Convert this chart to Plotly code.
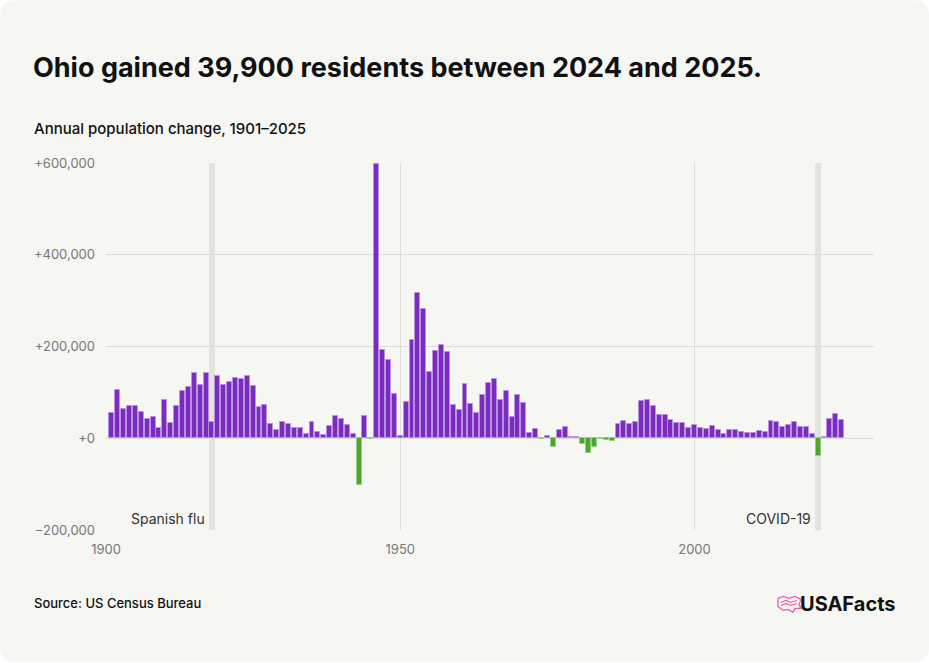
import plotly.graph_objects as go

years = list(range(1901, 2026))
change = [
    54000, 105000, 63000, 71000, 71000, 57000, 42000, 46000, 23000, 84000,
    34000, 71000, 104000, 111000, 142000, 115000, 143000, 36000, 136000, 116000,
    122000, 132000, 129000, 136000, 114000, 69000, 72000, 30000, 17000, 35000,
    30000, 22000, 22000, 10000, 35000, 13000, 7000, 27000, 48000, 42000,
    28000, 10000, -102000, 49000, -2000, 598000, 193000, 171000, 97000, 6000,
    80000, 214000, 316000, 282000, 144000, 190000, 203000, 189000, 72000, 62000,
    119000, 74000, 56000, 94000, 121000, 129000, 84000, 102000, 46000, 94000,
    77000, 11000, 20000, -2000, 4000, -18000, 18000, 24000, 2000, 2000,
    -13000, -32000, -20000, -1000, -3000, -6000, 30000, 38000, 30000, 35000,
    81000, 83000, 71000, 51000, 50000, 40000, 34000, 34000, 23000, 28000,
    23000, 20000, 26000, 17000, 10000, 17000, 19000, 14000, 12000, 12000,
    15000, 14000, 38000, 36000, 25000, 28000, 35000, 25000, 25000, 9000,
    -38000, 2000, 43000, 52000, 39900,
]
assert len(years) == len(change)

ytick_vals = [-200000, 0, 200000, 400000, 600000]
ytick_text = ["\u2212200,000", "+0", "+200,000", "+400,000", "+600,000"]
xtick_vals = [1900, 1950, 2000]
events = [("Spanish flu", 1918), ("COVID-19", 2021)]

W, H = 929, 663
L, R, T, B = 106, 55, 163, 132.5
pw, ph = W - L - R, H - T - B


def px(x):
    return (x - L) / pw


def py(y):
    return (H - B - y) / ph


PURPLE = "#7B2BC0"
GREEN = "#4EA52B"
colors = [PURPLE if v >= 0 else GREEN for v in change]
lines = ["rgba(185,145,225,0.9)" if v >= 0 else "rgba(150,205,130,0.9)" for v in change]

fig = go.Figure()
fig.add_trace(go.Bar(
    x=years, y=change, width=0.84,
    marker=dict(color=colors, line=dict(color=lines, width=1)),
    hoverinfo="skip",
))

shapes = []
# rounded card background
r = 16
pts = [
    ("M", r, 0), ("L", W - r, 0), ("Q", W, 0, W, r), ("L", W, H - r),
    ("Q", W, H, W - r, H), ("L", r, H), ("Q", 0, H, 0, H - r), ("L", 0, r),
    ("Q", 0, 0, r, 0),
]
path = ""
for p in pts:
    cmd = p[0]
    coords = p[1:]
    s = []
    for i in range(0, len(coords), 2):
        s.append(f"{px(coords[i]):.5f},{py(coords[i+1]):.5f}")
    path += cmd + " ".join(s) + " "
path += "Z"
shapes.append(dict(type="path", path=path, xref="paper", yref="paper",
                   fillcolor="#F6F6F2", line=dict(width=0), layer="below"))

for name, yr in events:
    shapes.append(dict(type="rect", xref="x", yref="y", x0=yr - 0.5, x1=yr + 0.5,
                       y0=-200000, y1=600000, fillcolor="#E2E2DE",
                       line=dict(width=0), layer="below"))

annotations = [
    dict(text="<b>Ohio gained 39,900 residents between 2024 and 2025.</b>",
         x=px(31), y=py(67), xref="paper", yref="paper", xanchor="left",
         yanchor="middle", showarrow=False,
         font=dict(family="Inter", size=27, color="#111111")),
    dict(text="Annual population change, 1901\u20132025",
         x=px(32), y=py(128), xref="paper", yref="paper", xanchor="left",
         yanchor="middle", showarrow=False,
         font=dict(family="Inter", size=15, color="#111111", weight=500)),
    dict(text="Source: US Census Bureau",
         x=px(32), y=py(604), xref="paper", yref="paper", xanchor="left",
         yanchor="middle", showarrow=False,
         font=dict(family="Inter", size=13, color="#111111", weight=500)),
    dict(text="<b>USAFacts</b>",
         x=px(898), y=py(605), xref="paper", yref="paper", xanchor="right",
         yanchor="middle", showarrow=False,
         font=dict(family="Inter", size=20, color="#111111")),
]
for name, yr in events:
    annotations.append(dict(text=name, x=yr - 0.9, y=-175000, xref="x", yref="y",
                            xanchor="right", yanchor="middle", showarrow=False,
                            font=dict(family="Inter", size=14, color="#333333")))

# small pink map-like logo mark
mx, my = 781, 605
logo = [
    (mx - 3, my - 6), (mx + 2, my - 8), (mx + 8, my - 6), (mx + 14, my - 8),
    (mx + 20, my - 5), (mx + 18, my), (mx + 20, my + 4), (mx + 14, my + 4),
    (mx + 12, my + 8), (mx + 7, my + 5), (mx + 2, my + 6), (mx - 3, my + 2),
]
lp = "M" + " L".join(f"{px(a):.5f},{py(b):.5f}" for a, b in logo) + " Z"
shapes.append(dict(type="path", path=lp, xref="paper", yref="paper",
                   line=dict(color="#EE5BA8", width=1.3)))
for dy in (-2, 1):
    wl = [(mx, my + dy), (mx + 5, my + dy - 2), (mx + 10, my + dy), (mx + 16, my + dy - 2)]
    shapes.append(dict(type="path",
                       path="M" + " L".join(f"{px(a):.5f},{py(b):.5f}" for a, b in wl),
                       xref="paper", yref="paper",
                       line=dict(color="#EE5BA8", width=1.1)))

fig.update_layout(
    width=W, height=H,
    margin=dict(l=L, r=R, t=T, b=B, pad=0),
    paper_bgcolor="#FFFFFF",
    plot_bgcolor="rgba(0,0,0,0)",
    showlegend=False,
    bargap=0,
    shapes=shapes,
    annotations=annotations,
    font=dict(family="Inter", color="#6E6E6E", size=13),
)
fig.update_xaxes(
    range=[1900, 2030.5], tickvals=xtick_vals, ticktext=[str(v) for v in xtick_vals],
    showgrid=True, gridcolor="#DCDCD8", gridwidth=1, zeroline=False,
    showline=False, ticks="", ticklabelstandoff=10,
    tickfont=dict(family="Inter", size=13, color="#777777"),
)
fig.update_yaxes(
    range=[-200000, 600000], tickvals=ytick_vals, ticktext=ytick_text,
    showgrid=True, gridcolor="#DCDCD8", gridwidth=1, zeroline=False,
    showline=False, ticks="", ticklabelstandoff=10,
    tickfont=dict(family="Inter", size=13, color="#777777"),
)

fig.write_html("out.html")
